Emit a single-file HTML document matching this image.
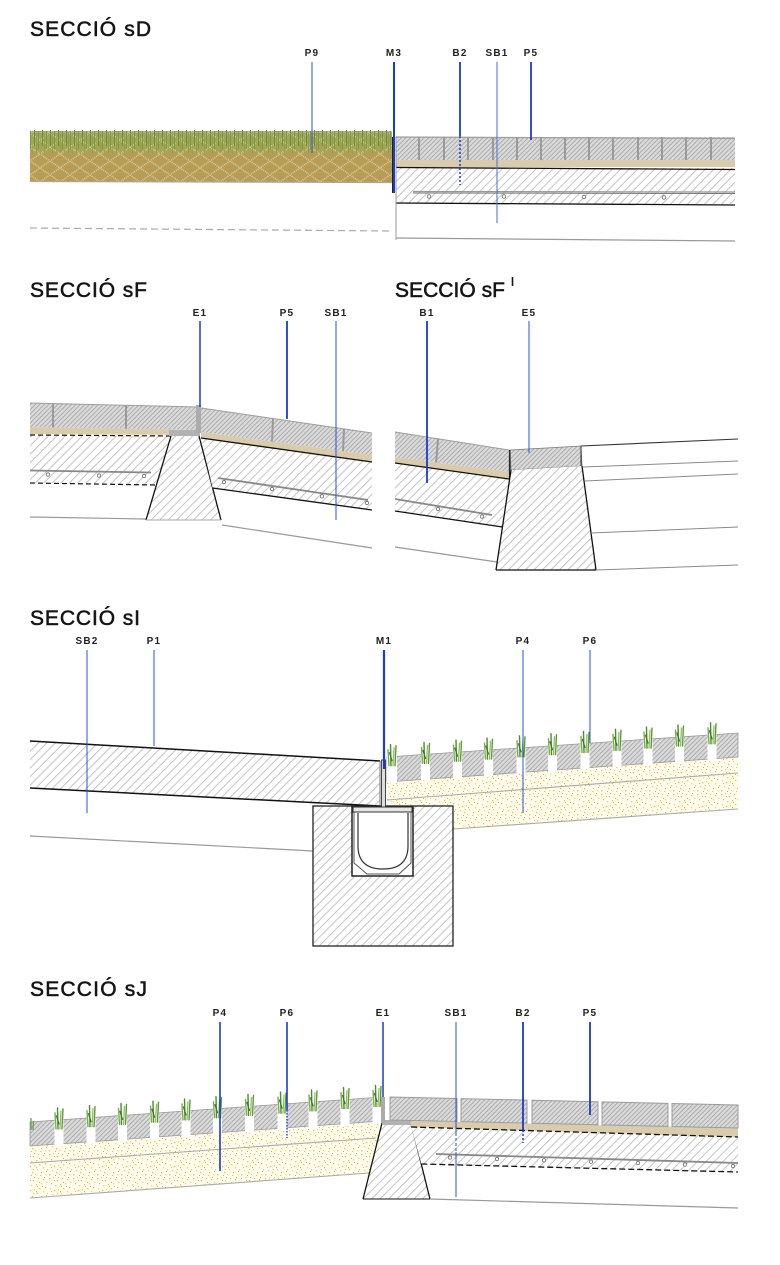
<!DOCTYPE html>
<html><head><meta charset="utf-8"><style>
html,body{margin:0;padding:0;background:#fff;}
svg{display:block;}
.t{font-family:"Liberation Sans",sans-serif;font-weight:normal;font-size:21px;fill:#151515;stroke:#151515;stroke-width:0.55px;}
.l{font-family:"Liberation Sans",sans-serif;font-weight:bold;font-size:10px;fill:#222;letter-spacing:1.2px;text-anchor:middle;}
</style></head><body>
<svg width="780" height="1265" viewBox="0 0 780 1265" xmlns="http://www.w3.org/2000/svg" xmlns:xlink="http://www.w3.org/1999/xlink">
<defs>
<pattern id="h" width="6" height="6" patternUnits="userSpaceOnUse" patternTransform="rotate(45)"><rect width="6" height="6" fill="#fff"/><line x1="0.5" y1="0" x2="0.5" y2="6" stroke="#c4c4c4" stroke-width="1"/></pattern>
<pattern id="pv" width="3.2" height="3.2" patternUnits="userSpaceOnUse" patternTransform="rotate(45)"><rect width="3.2" height="3.2" fill="#dadada"/><line x1="0.5" y1="0" x2="0.5" y2="3.2" stroke="#a8a8a8" stroke-width="0.9"/></pattern>
<pattern id="br" width="20" height="14" patternUnits="userSpaceOnUse" x="30" y="133">
<rect width="20" height="14" fill="#b79c56"/>
<path d="M0 0 L10 7 L0 14 M20 0 L10 7 L20 14" stroke="#dccb98" stroke-width="1.6" stroke-dasharray="1,1" fill="none"/>
</pattern>
<pattern id="gr" width="8" height="30" patternUnits="userSpaceOnUse" x="30" y="129">
<line x1="0.5" y1="2" x2="0.5" y2="20" stroke="#6a9f42" stroke-width="1"/>
<line x1="2.5" y1="4" x2="2.5" y2="26" stroke="#86b05c" stroke-width="1"/>
<line x1="4.5" y1="1" x2="4.5" y2="17" stroke="#5a9238" stroke-width="1"/>
<line x1="6.5" y1="3" x2="6.5" y2="24" stroke="#79a94e" stroke-width="1"/>
</pattern>
<pattern id="y" width="24" height="24" patternUnits="userSpaceOnUse">
<rect width="24" height="24" fill="#fffcef"/>
<g fill="#f3c33e">
<rect x="1" y="2" width="1.3" height="1.3"/><rect x="9" y="4" width="1.3" height="1.3"/><rect x="19" y="3" width="1.3" height="1.3"/><rect x="3" y="7" width="1.3" height="1.3"/><rect x="12" y="8" width="1.3" height="1.3"/><rect x="21" y="11" width="1.3" height="1.3"/><rect x="6" y="14" width="1.3" height="1.3"/><rect x="15" y="12" width="1.3" height="1.3"/><rect x="23" y="17" width="1" height="1.3"/><rect x="8" y="20" width="1.3" height="1.3"/><rect x="17" y="20" width="1.3" height="1.3"/><rect x="1" y="22" width="1.3" height="1.3"/><rect x="16" y="23" width="1.3" height="1"/><rect x="12" y="15" width="1.3" height="1.3"/>
</g>
<g fill="#f7d46a">
<rect x="5" y="1" width="1.3" height="1.3"/><rect x="14" y="2" width="1.3" height="1.3"/><rect x="22" y="6" width="1.3" height="1.3"/><rect x="7" y="9" width="1.3" height="1.3"/><rect x="17" y="7" width="1.3" height="1.3"/><rect x="2" y="12" width="1.3" height="1.3"/><rect x="10" y="13" width="1.3" height="1.3"/><rect x="19" y="15" width="1.3" height="1.3"/><rect x="4" y="18" width="1.3" height="1.3"/><rect x="13" y="17" width="1.3" height="1.3"/><rect x="21" y="22" width="1.3" height="1.3"/><rect x="11" y="22" width="1.3" height="1.3"/>
</g>
<g fill="#e8b12f">
<rect x="6" y="4" width="1" height="1"/><rect x="20" y="1" width="1" height="1"/><rect x="9" y="17" width="1" height="1"/><rect x="15" y="6" width="1" height="1"/><rect x="3" y="15" width="1" height="1"/><rect x="18" y="10" width="1" height="1"/><rect x="22" y="19" width="1" height="1"/><rect x="7" y="23" width="1" height="1"/><rect x="13" y="10" width="1" height="1"/><rect x="10" y="1" width="1" height="1"/>
</g>
</pattern>
<g id="tf" fill="none" stroke-linecap="round">
<path d="M-3 9 L-4 -7" stroke="#79ad4e" stroke-width="1.4"/>
<path d="M-1 9 L-1.5 -12" stroke="#4e8a2f" stroke-width="1.4"/>
<path d="M1 9 L2 -9" stroke="#8fbf62" stroke-width="1.3"/>
<path d="M3 9 L4 -11" stroke="#5c9a3a" stroke-width="1.4"/>
<path d="M0 4 L-2.5 -4" stroke="#3d7526" stroke-width="1.2"/>
</g>
</defs>

<!-- ================= SECCIÓ sD ================= -->
<text class="t" x="30" y="36" textLength="121" lengthAdjust="spacing">SECCIÓ sD</text>
<text class="l" x="312" y="56">P9</text>
<text class="l" x="394" y="56">M3</text>
<text class="l" x="460" y="56">B2</text>
<text class="l" x="497" y="56">SB1</text>
<text class="l" x="531" y="56">P5</text>

<!-- grass -->
<rect x="30" y="131" width="362" height="51" fill="url(#br)"/>
<line x1="30" y1="132.5" x2="392" y2="132.5" stroke="#b5b5a8" stroke-width="1"/>
<rect x="30" y="129" width="362" height="29" fill="url(#gr)"/>
<line x1="30" y1="181.5" x2="392" y2="182.5" stroke="#a8a8a8" stroke-width="1.2"/>
<line x1="30" y1="228" x2="392" y2="231" stroke="#aaa" stroke-width="1.2" stroke-dasharray="7,4"/>

<!-- paving -->
<rect x="396" y="168" width="339" height="36" fill="url(#h)"/>
<rect x="396" y="137" width="339" height="23" fill="url(#pv)"/>
<line x1="396" y1="137" x2="735" y2="138.5" stroke="#9e9e9e" stroke-width="1.2"/>
<g stroke="#9a9a9a" stroke-width="2">
<line x1="419" y1="137" x2="419" y2="160"/><line x1="444" y1="137" x2="444" y2="160"/><line x1="468" y1="137" x2="468" y2="160"/><line x1="493" y1="137" x2="493" y2="160"/><line x1="517" y1="137" x2="517" y2="160"/><line x1="541" y1="137" x2="541" y2="160"/><line x1="565" y1="137" x2="565" y2="160"/><line x1="589" y1="137" x2="589" y2="160"/><line x1="613" y1="137" x2="613" y2="160"/><line x1="638" y1="137" x2="638" y2="160"/><line x1="662" y1="137" x2="662" y2="160"/><line x1="686" y1="137" x2="686" y2="160"/><line x1="711" y1="137" x2="711" y2="160"/>
</g>
<rect x="396" y="160" width="339" height="7" fill="#d8ccad"/>
<line x1="396" y1="167.5" x2="735" y2="169.5" stroke="#111" stroke-width="1.3"/>
<line x1="413" y1="191.5" x2="735" y2="192" stroke="#999" stroke-width="1.2"/>
<line x1="413" y1="193" x2="735" y2="193.5" stroke="#777" stroke-width="1"/>
<g fill="#fff" stroke="#666" stroke-width="0.8">
<circle cx="429" cy="196.5" r="1.8"/><circle cx="504" cy="196.5" r="1.8"/><circle cx="584" cy="197" r="1.8"/><circle cx="664" cy="197.5" r="1.8"/>
</g>
<line x1="396" y1="203" x2="735" y2="205" stroke="#111" stroke-width="1.3"/>
<line x1="396" y1="137" x2="396" y2="240" stroke="#999" stroke-width="1"/>
<line x1="396" y1="238" x2="735" y2="241" stroke="#999" stroke-width="1.2"/>
<rect x="392" y="137" width="3" height="56" fill="#222"/>

<!-- leaders sD -->
<line x1="312" y1="62" x2="312" y2="153" stroke="#2b50d8" stroke-width="1"/>
<line x1="394" y1="62" x2="394" y2="193" stroke="#1a3cc8" stroke-width="2"/>
<line x1="460" y1="62" x2="460" y2="136" stroke="#1a3cc8" stroke-width="1.8"/>
<line x1="460" y1="136" x2="460" y2="185" stroke="#1a3cc8" stroke-width="1.5" stroke-dasharray="2,2"/>
<line x1="497" y1="62" x2="497" y2="223" stroke="#4a6ee0" stroke-width="1"/>
<line x1="531" y1="62" x2="531" y2="140" stroke="#1a3cc8" stroke-width="1.8"/>

<!-- ================= SECCIÓ sF ================= -->
<text class="t" x="30" y="297" textLength="117" lengthAdjust="spacing">SECCIÓ sF</text>
<text class="l" x="200" y="316">E1</text>
<text class="l" x="287" y="316">P5</text>
<text class="l" x="336" y="316">SB1</text>

<!-- left part -->
<polygon points="30,435 171,436 157,484 30,483" fill="url(#h)"/>
<polygon points="30,403 198,407 198,430 30,427" fill="url(#pv)"/>
<line x1="30" y1="403" x2="198" y2="407" stroke="#9e9e9e" stroke-width="1"/>
<line x1="53" y1="404" x2="53" y2="428" stroke="#9a9a9a" stroke-width="2"/>
<line x1="126" y1="405" x2="126" y2="429" stroke="#9a9a9a" stroke-width="2"/>
<polygon points="30,427 198,430 198,435 30,434" fill="#d8ccad"/>
<line x1="30" y1="435" x2="171" y2="436" stroke="#111" stroke-width="1.2" stroke-dasharray="5,3"/>
<line x1="30" y1="470.5" x2="151" y2="472.5" stroke="#888" stroke-width="1.8"/>
<g fill="#fff" stroke="#666" stroke-width="0.8"><circle cx="48" cy="474.5" r="1.7"/><circle cx="99" cy="475.5" r="1.7"/><circle cx="144" cy="476" r="1.7"/></g>
<line x1="30" y1="483" x2="157" y2="485" stroke="#111" stroke-width="1.2" stroke-dasharray="5,3"/>
<line x1="30" y1="517" x2="146" y2="519" stroke="#999" stroke-width="1.2"/>
<!-- trapezoid -->
<polygon points="171,436 199,436 221,520 146,520" fill="url(#h)"/>
<line x1="171" y1="436" x2="146" y2="520" stroke="#111" stroke-width="1.3"/>
<line x1="199" y1="436" x2="221" y2="520" stroke="#111" stroke-width="1.3"/>
<line x1="146" y1="520" x2="221" y2="520" stroke="#aaa" stroke-width="1"/>
<rect x="169" y="430" width="31" height="6" fill="#b2b2b2"/>
<rect x="196" y="405" width="5" height="28" fill="#ababab"/>
<!-- right part -->
<polygon points="201,438 372,462 372,510 212.6,488" fill="url(#h)"/>
<polygon points="201,408 372,433 372,455 201,432" fill="url(#pv)"/>
<line x1="201" y1="408" x2="372" y2="433" stroke="#9e9e9e" stroke-width="1"/>
<line x1="273" y1="418.5" x2="272" y2="442" stroke="#9a9a9a" stroke-width="2"/>
<line x1="344" y1="429" x2="343" y2="452" stroke="#9a9a9a" stroke-width="2"/>
<polygon points="201,432 372,455 372,462 201,438" fill="#d8ccad"/>
<line x1="201" y1="438" x2="372" y2="462" stroke="#111" stroke-width="1.3"/>
<line x1="218" y1="478" x2="368" y2="500" stroke="#888" stroke-width="1.8"/>
<g fill="#fff" stroke="#666" stroke-width="0.8"><circle cx="224" cy="482" r="1.7"/><circle cx="272" cy="489" r="1.7"/><circle cx="322" cy="496.3" r="1.7"/><circle cx="367" cy="503" r="1.7"/></g>
<line x1="212.6" y1="488" x2="372" y2="510" stroke="#111" stroke-width="1.3"/>
<line x1="222" y1="525" x2="372" y2="548" stroke="#999" stroke-width="1.2"/>

<line x1="200" y1="321" x2="200" y2="407" stroke="#1a3cc8" stroke-width="1.5"/>
<line x1="287" y1="321" x2="287" y2="419" stroke="#1a3cc8" stroke-width="1.8"/>
<line x1="336" y1="321" x2="336" y2="520" stroke="#2b50d8" stroke-width="1"/>

<!-- ================= SECCIÓ sF' ================= -->
<text class="t" x="395" y="297" textLength="110" lengthAdjust="spacing">SECCIÓ sF</text>
<line x1="512.5" y1="277" x2="512.5" y2="286" stroke="#151515" stroke-width="1.6"/>
<text class="l" x="427" y="316">B1</text>
<text class="l" x="529" y="316">E5</text>

<polygon points="395,463 510,479 502.4,527 395,511" fill="url(#h)"/>
<polygon points="395,432 509,450 509,472 395,457" fill="url(#pv)"/>
<line x1="395" y1="432" x2="509" y2="450" stroke="#9e9e9e" stroke-width="1"/>
<line x1="438" y1="439" x2="436" y2="464" stroke="#9a9a9a" stroke-width="2"/>
<polygon points="395,457 509,472 509,479 395,463" fill="#d8ccad"/>
<line x1="395" y1="463" x2="509" y2="479" stroke="#111" stroke-width="1.3"/>
<line x1="395" y1="499" x2="492" y2="515" stroke="#888" stroke-width="1.8"/>
<g fill="#fff" stroke="#666" stroke-width="0.8"><circle cx="438" cy="509" r="1.7"/><circle cx="482" cy="516.5" r="1.7"/></g>
<line x1="395" y1="511" x2="502.4" y2="527" stroke="#111" stroke-width="1.3"/>
<line x1="395" y1="547" x2="497" y2="562" stroke="#999" stroke-width="1.2"/>
<line x1="509.5" y1="450" x2="509.5" y2="479" stroke="#222" stroke-width="1.2"/>
<!-- E5 curb -->
<polygon points="510,450 581,446 582,466 511,470" fill="url(#pv)" stroke="#777" stroke-width="0.8"/>
<polygon points="511,470 582,466 596,570 496,570" fill="url(#h)"/>
<line x1="511" y1="470" x2="496" y2="570" stroke="#111" stroke-width="1.3"/>
<line x1="582" y1="466" x2="596" y2="570" stroke="#111" stroke-width="1.3"/>
<line x1="496" y1="570" x2="596" y2="570" stroke="#111" stroke-width="1.2"/>
<line x1="510" y1="450" x2="510" y2="470" stroke="#333" stroke-width="1"/>
<line x1="581" y1="446" x2="581" y2="466" stroke="#333" stroke-width="1"/>
<line x1="581" y1="446" x2="738" y2="439" stroke="#333" stroke-width="1.1"/>
<line x1="583" y1="467" x2="738" y2="461" stroke="#8a8a8a" stroke-width="1"/>
<line x1="585" y1="481" x2="738" y2="474" stroke="#8a8a8a" stroke-width="1"/>
<line x1="591" y1="533" x2="738" y2="527" stroke="#8a8a8a" stroke-width="1"/>
<line x1="596" y1="570" x2="738" y2="565" stroke="#8a8a8a" stroke-width="1"/>

<line x1="427" y1="321" x2="427" y2="483" stroke="#1a3cc8" stroke-width="1.8"/>
<line x1="529" y1="321" x2="529" y2="453" stroke="#2b50d8" stroke-width="1"/>

<!-- ================= SECCIÓ sI ================= -->
<text class="t" x="30" y="625" textLength="110" lengthAdjust="spacing">SECCIÓ sI</text>
<text class="l" x="87" y="644">SB2</text>
<text class="l" x="154" y="644">P1</text>
<text class="l" x="384" y="644">M1</text>
<text class="l" x="523" y="644">P4</text>
<text class="l" x="590" y="644">P6</text>

<!-- slab P1 -->
<polygon points="30,741 380,761 380,806 30,788" fill="url(#h)"/>
<line x1="30" y1="741" x2="380" y2="761" stroke="#111" stroke-width="1.5"/>
<line x1="30" y1="788" x2="380" y2="806" stroke="#111" stroke-width="1.5"/>
<line x1="380" y1="761" x2="380" y2="806" stroke="#777" stroke-width="1"/>
<line x1="30" y1="836" x2="313" y2="851" stroke="#999" stroke-width="1.2"/>

<!-- yellow layers -->
<polygon points="387,782 738,757 738,809 453,829 453,806 387,806" fill="url(#y)"/>
<line x1="387" y1="800" x2="738" y2="773" stroke="#aaa" stroke-width="1.1"/>
<line x1="453" y1="829" x2="738" y2="809" stroke="#aaa" stroke-width="1.1"/>
<!-- paver band with grass -->
<polygon points="387,757 738,733 738,757 387,782" fill="url(#pv)" stroke="#999" stroke-width="0.8"/>
<g fill="#fff">
<rect x="387" y="755.7" width="10" height="27"/>
<rect x="421" y="753.4" width="9" height="27"/>
<rect x="453" y="751.2" width="9" height="27"/>
<rect x="484" y="749.1" width="9" height="27"/>
<rect x="516.5" y="746.8" width="9" height="27"/>
<rect x="548" y="744.7" width="9" height="27"/>
<rect x="580.5" y="742.5" width="9" height="27"/>
<rect x="612.5" y="740.3" width="9" height="27"/>
<rect x="643.5" y="738.1" width="9" height="27"/>
<rect x="675" y="736" width="9" height="27"/>
<rect x="707.5" y="733.8" width="9" height="27"/>
</g>
<use xlink:href="#tf" x="392" y="756.7"/>
<use xlink:href="#tf" x="425.5" y="754.4"/>
<use xlink:href="#tf" x="457.5" y="752.2"/>
<use xlink:href="#tf" x="488.5" y="750.1"/>
<use xlink:href="#tf" x="521" y="747.8"/>
<use xlink:href="#tf" x="552.5" y="745.7"/>
<use xlink:href="#tf" x="585" y="743.5"/>
<use xlink:href="#tf" x="617" y="741.3"/>
<use xlink:href="#tf" x="648" y="739.1"/>
<use xlink:href="#tf" x="679.5" y="737"/>
<use xlink:href="#tf" x="712" y="734.8"/>

<!-- block + channel -->
<rect x="313" y="806" width="140" height="140" fill="url(#h)" stroke="#222" stroke-width="1.3"/>
<rect x="352" y="807" width="61" height="69" fill="#fff" stroke="#222" stroke-width="1.5"/>
<path d="M354 812 L354 863 L367 874 L399 874 L411 863 L411 812" fill="none" stroke="#555" stroke-width="1"/>
<path d="M358 813 L358 846 Q358 869 383 869 Q408 869 408 846 L408 813" fill="none" stroke="#333" stroke-width="1.2"/>
<rect x="353" y="807" width="59" height="5" fill="#e6e6e6" stroke="#333" stroke-width="1"/>
<!-- M1 angle -->
<rect x="381.5" y="760" width="4" height="47" fill="#ddd" stroke="#333" stroke-width="0.9"/>

<line x1="87" y1="650" x2="87" y2="813" stroke="#2b50d8" stroke-width="1"/>
<line x1="154" y1="650" x2="154" y2="746" stroke="#2b50d8" stroke-width="1"/>
<line x1="384" y1="650" x2="384" y2="769" stroke="#1a3cc8" stroke-width="2.2"/>
<line x1="523" y1="650" x2="523" y2="813" stroke="#2b50d8" stroke-width="1"/>
<line x1="590" y1="650" x2="590" y2="743" stroke="#2b50d8" stroke-width="1"/>

<!-- ================= SECCIÓ sJ ================= -->
<text class="t" x="30" y="996" textLength="117" lengthAdjust="spacing">SECCIÓ sJ</text>
<text class="l" x="220" y="1016">P4</text>
<text class="l" x="287" y="1016">P6</text>
<text class="l" x="383" y="1016">E1</text>
<text class="l" x="456" y="1016">SB1</text>
<text class="l" x="523" y="1016">B2</text>
<text class="l" x="590" y="1016">P5</text>

<!-- left: yellow + grass pavers -->
<polygon points="30,1146 382,1122 369,1173 30,1198" fill="url(#y)"/>
<line x1="30" y1="1163" x2="376" y2="1138" stroke="#aaa" stroke-width="1.1"/>
<line x1="30" y1="1198" x2="369" y2="1173" stroke="#aaa" stroke-width="1.1"/>
<polygon points="30,1122 382,1097 382,1121 30,1146" fill="url(#pv)" stroke="#999" stroke-width="0.8"/>
<g fill="#fff">
<rect x="54.5" y="1118.9" width="9" height="27"/>
<rect x="86.5" y="1116.7" width="9" height="27"/>
<rect x="118" y="1114.4" width="9" height="27"/>
<rect x="150" y="1112.2" width="9" height="27"/>
<rect x="181.5" y="1109.9" width="9" height="27"/>
<rect x="213" y="1107.7" width="9" height="27"/>
<rect x="245" y="1105.4" width="9" height="27"/>
<rect x="277.5" y="1103.1" width="9" height="27"/>
<rect x="308.5" y="1100.9" width="9" height="27"/>
<rect x="340.5" y="1098.6" width="9" height="27"/>
<rect x="372.5" y="1096.4" width="9" height="27"/>
</g>
<use xlink:href="#tf" x="59" y="1119.9"/>
<use xlink:href="#tf" x="91" y="1117.7"/>
<use xlink:href="#tf" x="122.5" y="1115.4"/>
<use xlink:href="#tf" x="154.5" y="1113.2"/>
<use xlink:href="#tf" x="186" y="1110.9"/>
<use xlink:href="#tf" x="217.5" y="1108.7"/>
<use xlink:href="#tf" x="249.5" y="1106.4"/>
<use xlink:href="#tf" x="282" y="1104.1"/>
<use xlink:href="#tf" x="313" y="1101.9"/>
<use xlink:href="#tf" x="345" y="1099.6"/>
<use xlink:href="#tf" x="377" y="1097.4"/>
<path d="M31 1130 L31 1118 M33 1130 L33.5 1121" stroke="#6aa046" stroke-width="1.3" fill="none"/>

<!-- trapezoid -->
<polygon points="382,1123 411,1123 430,1199 363,1199" fill="url(#h)"/>
<line x1="382" y1="1123" x2="363" y2="1199" stroke="#111" stroke-width="1.3"/>
<line x1="411" y1="1123" x2="430" y2="1199" stroke="#111" stroke-width="1.3"/>
<line x1="363" y1="1199" x2="430" y2="1199" stroke="#111" stroke-width="1.1"/>
<rect x="382" y="1120" width="30" height="5" fill="#b2b2b2"/>
<rect x="381" y="1097" width="4" height="26" fill="#ababab"/>

<!-- right -->
<polygon points="411,1126 738,1137 738,1172 421.3,1164" fill="url(#h)"/>
<polygon points="411,1121 738,1128 738,1137 411,1127" fill="#d8ccad"/>
<line x1="411" y1="1127" x2="738" y2="1137" stroke="#111" stroke-width="1.3" stroke-dasharray="6,3"/>
<g fill="url(#pv)" stroke="#9c9c9c" stroke-width="1">
<polygon points="390,1097 457,1098.5 457,1121.5 390,1120"/>
<polygon points="461,1098.6 527,1100.1 527,1123.1 461,1121.6"/>
<polygon points="532,1100.3 598,1101.8 598,1124.8 532,1123.3"/>
<polygon points="602,1101.9 668,1103.4 668,1126.4 602,1124.9"/>
<polygon points="672,1103.5 738,1105 738,1128 672,1126.5"/>
</g>
<line x1="436" y1="1154" x2="738" y2="1163" stroke="#888" stroke-width="1.8"/>
<g fill="#fff" stroke="#666" stroke-width="0.8">
<circle cx="450" cy="1157.5" r="1.7"/><circle cx="497" cy="1159" r="1.7"/><circle cx="544" cy="1160.3" r="1.7"/><circle cx="591" cy="1161.7" r="1.7"/><circle cx="638" cy="1163" r="1.7"/><circle cx="685" cy="1164.5" r="1.7"/><circle cx="733" cy="1166" r="1.7"/>
</g>
<line x1="421.3" y1="1164" x2="738" y2="1172" stroke="#111" stroke-width="1.3" stroke-dasharray="6,3"/>
<line x1="430" y1="1199" x2="738" y2="1208" stroke="#999" stroke-width="1.2"/>

<line x1="220" y1="1022" x2="220" y2="1171" stroke="#1a3cc8" stroke-width="1.6"/>
<line x1="287" y1="1022" x2="287" y2="1110" stroke="#1a3cc8" stroke-width="1.6"/>
<line x1="287" y1="1110" x2="287" y2="1138" stroke="#1a3cc8" stroke-width="1.4" stroke-dasharray="1.5,1.5"/>
<line x1="383" y1="1022" x2="383" y2="1097" stroke="#1a3cc8" stroke-width="1.5"/>
<line x1="456" y1="1022" x2="456" y2="1133" stroke="#2b50d8" stroke-width="1"/>
<line x1="456" y1="1133" x2="456" y2="1152" stroke="#2b50d8" stroke-width="1" stroke-dasharray="3,2"/>
<line x1="456" y1="1152" x2="456" y2="1197" stroke="#2b50d8" stroke-width="1"/>
<line x1="523" y1="1022" x2="523" y2="1130" stroke="#1a3cc8" stroke-width="1.8"/>
<line x1="523" y1="1130" x2="523" y2="1143" stroke="#1a3cc8" stroke-width="1.5" stroke-dasharray="2,2"/>
<line x1="590" y1="1022" x2="590" y2="1115" stroke="#1a3cc8" stroke-width="1.8"/>
</svg>
</body></html>
